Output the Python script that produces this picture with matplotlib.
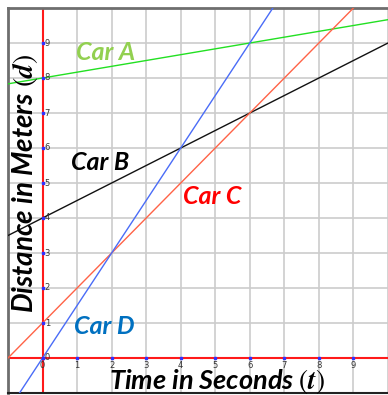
import matplotlib.pyplot as plt
import numpy as np

plt.rcParams['mathtext.fontset'] = 'stix'

# lines: distance = start + speed * t
cars = ['Car A', 'Car B', 'Car C', 'Car D']
starts = [8, 4, 1, 0]
speeds = [1 / 6, 0.5, 1, 1.5]
line_colors = ['#22e022', '#111111', '#ff6347', '#4a6cf7']
label_colors = ['#92d050', '#000000', '#ff0000', '#0070c0']
label_pos = [(1.81, 8.72), (1.67, 5.58), (4.92, 4.61), (1.78, 0.9)]
ticks = list(range(0, 10))

W, H = 388, 395
fig = plt.figure(figsize=(W / 100, H / 100), dpi=100)
ax = fig.add_axes([8 / W, 2 / H, 380 / W, 385 / H])
ax.set_xlim(-0.99, 9.87)
ax.set_ylim(-0.99, 10.0)

ax.set_xticks(range(-1, 11))
ax.set_yticks(range(-1, 11))
ax.tick_params(length=0, labelbottom=False, labelleft=False)
ax.grid(True, color='#cccccc', lw=1.2)
ax.set_axisbelow(True)

for s in ['top', 'left']:
    ax.spines[s].set_color('#6e6e6e')
    ax.spines[s].set_linewidth(2)
ax.spines['bottom'].set_color('#222222')
ax.spines['bottom'].set_linewidth(1.5)
ax.spines['right'].set_visible(False)

ax.axhline(0, color='#ff1a1a', lw=1.5, zorder=2)
ax.axvline(0, color='#ff1a1a', lw=1.5, zorder=2)

t = np.linspace(-1, 10, 50)
for st, sp, c in zip(starts, speeds, line_colors):
    ax.plot(t, st + sp * t, color=c, lw=1.0, zorder=3)

for name, (x, y), c in zip(cars, label_pos, label_colors):
    ax.text(x, y, name, color=c, fontsize=18, family='Lato',
            weight='bold', style='italic', ha='center', va='center', zorder=4)

# small tick numbers and blue tick dots on the axes
for v in ticks:
    ax.text(v, -0.08, str(v), fontsize=6, color='#333333',
            ha='center', va='top', zorder=4)
    if v > 0:
        ax.text(0.06, v, str(v), fontsize=6, color='#333333',
                ha='left', va='center', zorder=4)
ax.text(0.06, 0, '0', fontsize=6, color='#333333', ha='left', va='center', zorder=4)
ax.plot(ticks, [0] * len(ticks), 's', ms=1.5, color='#3030ff', zorder=4)
ax.plot([0] * len(ticks), ticks, 's', ms=1.5, color='#3030ff', zorder=4)

fig.text(217 / W, 1 - 381 / H, r'Time in Seconds $\left(\mathbfit{t}\right)$', fontsize=19.5,
         family='Lato', weight='bold', style='italic', ha='center', va='center')
fig.text(25 / W, 1 - 183 / H, r'Distance in Meters $\left(\mathbfit{d}\right)$', fontsize=20,
         family='Lato', weight='bold', style='italic', ha='center', va='center',
         rotation=90)

fig.savefig('out.png', dpi=100)
